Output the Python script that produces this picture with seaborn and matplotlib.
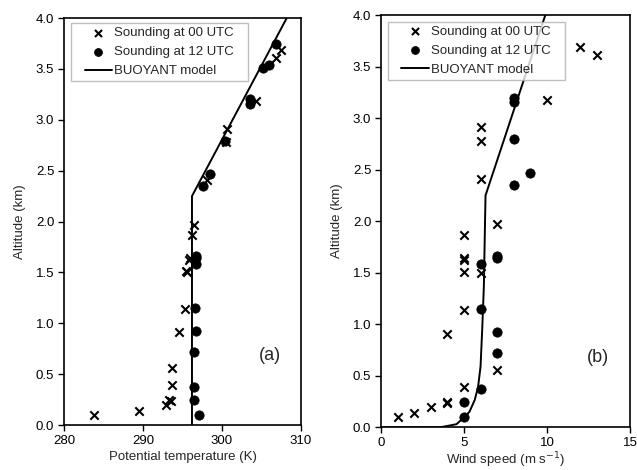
import numpy as np
import pandas as pd
import matplotlib
matplotlib.use("Agg")
import matplotlib.pyplot as plt
from matplotlib.path import Path
import seaborn as sns

# altitudes (km) of the soundings
z00 = [0.10, 0.14, 0.20, 0.24, 0.25, 0.39, 0.56, 0.91, 1.14, 1.50, 1.51,
       1.62, 1.64, 1.87, 1.97, 2.41, 2.78, 2.91, 3.18, 3.61, 3.69]
theta00 = [283.8, 289.5, 292.9, 293.5, 293.3, 293.7, 293.7, 294.5, 295.3, 295.6, 295.5,
           295.8, 295.9, 296.2, 296.4, 298.1, 300.5, 300.6, 304.3, 306.9, 307.5]
wind00 = [1, 2, 3, 4, 4, 5, 7, 4, 5, 6, 5,
          5, 5, 5, 7, 6, 6, 6, 10, 13, 12]

z12_theta = [0.10, 0.245, 0.37, 0.715, 0.92, 1.15, 1.58, 1.64, 1.66,
             2.35, 2.47, 2.79, 3.155, 3.20, 3.505, 3.54, 3.74]
theta12 = [297.1, 296.4, 296.4, 296.45, 296.65, 296.6, 296.7, 296.7, 296.7,
           297.55, 298.5, 300.4, 303.5, 303.6, 305.2, 305.9, 306.9]

z12_wind = [0.10, 0.25, 0.37, 0.72, 0.92, 1.145, 1.58, 1.64, 1.66,
            2.35, 2.47, 2.80, 3.155, 3.20]
wind12 = [5, 5, 6, 7, 7, 6, 6, 7, 7,
          8, 9, 8, 8, 8]

# BUOYANT model profiles
model_theta_z = [0.0, 2.25, 4.0]
model_theta = [296.2, 296.2, 308.2]
model_wind_z = [0.0, 0.0, 0.005, 0.03, 0.095, 0.15, 0.265, 0.39, 0.59, 0.95, 1.37, 2.0, 2.25, 4.0]
model_wind = [0.0, 3.5, 3.75, 4.55, 5.0, 5.33, 5.65, 5.85, 6.0, 6.1, 6.2, 6.27, 6.3, 9.9]

sns.set_style("ticks")
plt.rcParams['font.family'] = ['Liberation Sans', 'DejaVu Sans']
plt.rcParams['font.size'] = 9.5
plt.rcParams['axes.linewidth'] = 1.2

fig = plt.figure(figsize=(6.37, 4.70), dpi=100)
ax1 = fig.add_axes([0.1005, 0.0957, 0.372, 0.866])
ax2 = fig.add_axes([0.598, 0.0909, 0.391, 0.877])


# legend frame a bit wider than its content (padding only left/right)
def wide_box(x0, y0, width, height, mutation_size):
    dx = 10
    x0 -= dx
    width += 2 * dx
    return Path([(x0, y0), (x0 + width, y0), (x0 + width, y0 + height),
                 (x0, y0 + height), (x0, y0)], closed=True)


def draw(ax, x00, y00, x12, y12, xm, ym, label_letter, anchor):
    sns.scatterplot(x=x00, y=y00, ax=ax, marker="x", color="black", s=36,
                    linewidth=1.5, label="Sounding at 00 UTC", zorder=3)
    sns.scatterplot(x=x12, y=y12, ax=ax, marker="o", color="black", s=45,
                    edgecolor="black", label="Sounding at 12 UTC", zorder=3)
    sns.lineplot(x=xm, y=ym, ax=ax, sort=False, estimator=None, color="black",
                 linewidth=1.4, label="BUOYANT model", zorder=2)
    ax.set_ylim(0, 4)
    ax.set_yticks(np.arange(0, 4.01, 0.5))
    ax.set_yticklabels([f"{v:.1f}" for v in np.arange(0, 4.01, 0.5)])
    ax.set_ylabel("Altitude (km)", labelpad=7)
    for s in ax.spines.values():
        s.set_visible(True)
        s.set_color("black")
    ax.tick_params(direction="out", length=4, width=1, pad=3, colors="black", labelsize=9.5)
    leg = ax.legend(loc="upper left", bbox_to_anchor=anchor, fontsize=9.5,
                    frameon=True, fancybox=False, edgecolor="#b0b0b0",
                    borderpad=0.3, handlelength=2.05, handletextpad=0.2,
                    labelspacing=0.5, borderaxespad=0, markerscale=0.85)
    leg.get_frame().set_linewidth(1.0)
    leg.get_frame().set_boxstyle(wide_box)
    ax.text(0.87, 0.17, label_letter, transform=ax.transAxes, fontsize=13,
            ha="center", va="center")


draw(ax1, theta00, z00, theta12, z12_theta, model_theta, model_theta_z, "(a)",
     (0.0705, 0.987))
ax1.set_xlim(280, 310)
ax1.set_xticks([280, 290, 300, 310])
ax1.set_xlabel("Potential temperature (K)", labelpad=3)

draw(ax2, wind00, z00, wind12, z12_wind, model_wind, model_wind_z, "(b)",
     (0.0667, 0.984))
ax2.set_xlim(0, 15)
ax2.set_xticks([0, 5, 10, 15])
ax2.set_xlabel("Wind speed (m s$^{-1}$)", labelpad=1)

fig.savefig("out.png", dpi=100)
